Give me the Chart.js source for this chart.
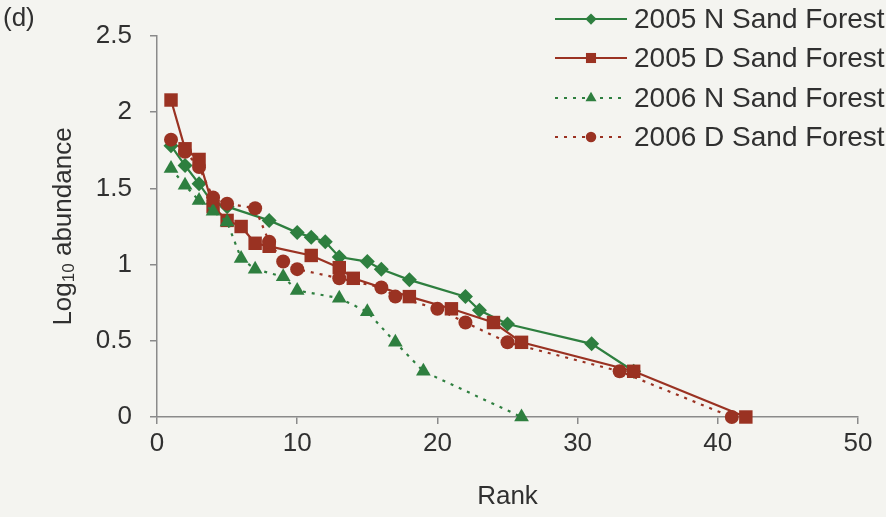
<!DOCTYPE html>
<html>
<head>
<meta charset="utf-8">
<script src="https://cdn.jsdelivr.net/npm/chart.js@4/dist/chart.umd.min.js"></script>
<style>
  html, body { margin: 0; padding: 0; background: #f4f4f0; }
  #wrap { width: 886px; height: 517px; position: relative; }
</style>
</head>
<body>
<div id="wrap"><canvas id="c" width="886" height="517"></canvas></div>
<script>
// Rank / log10 abundance per sampling
const n05Rank = [1, 2, 3, 4, 5, 8, 10, 11, 12, 13, 15, 16, 18, 22, 23, 25, 31, 34];
const n05Log  = [1.78, 1.65, 1.53, 1.40, 1.38, 1.29, 1.21, 1.18, 1.15, 1.05, 1.02, 0.97, 0.90, 0.79, 0.70, 0.61, 0.48, 0.30];

const d05Rank = [1, 2, 3, 4, 5, 6, 7, 8, 11, 13, 14, 18, 21, 24, 26, 34, 42];
const d05Log  = [2.08, 1.76, 1.69, 1.38, 1.29, 1.25, 1.14, 1.12, 1.06, 0.98, 0.91, 0.79, 0.71, 0.62, 0.49, 0.30, 0];

const n06Rank = [1, 2, 3, 4, 5, 6, 7, 9, 10, 13, 15, 17, 19, 26];
const n06Log  = [1.63, 1.52, 1.42, 1.35, 1.28, 1.04, 0.97, 0.92, 0.83, 0.78, 0.69, 0.49, 0.30, 0];

const d06Rank = [1, 2, 3, 4, 5, 7, 8, 9, 10, 13, 16, 17, 20, 22, 25, 33, 41];
const d06Log  = [1.82, 1.74, 1.64, 1.44, 1.40, 1.37, 1.15, 1.02, 0.97, 0.91, 0.85, 0.79, 0.71, 0.62, 0.49, 0.30, 0];

const seriesNames = ['2005 N Sand Forest', '2005 D Sand Forest', '2006 N Sand Forest', '2006 D Sand Forest'];
const xTicks = [0, 10, 20, 30, 40, 50];
const yTicks = [0, 0.5, 1, 1.5, 2, 2.5];

const GREEN = '#2e7f3f';
const RED = '#9a3222';
const TEXT = '#303030';
const AXIS = '#8a8a8a';
const FONT = '"Liberation Sans", Arial, sans-serif';

const pts = (xs, ys) => xs.map((x, i) => ({ x, y: ys[i] }));

const styles = [
  { color: GREEN, pointStyle: 'rectRot',  radius: 7.5, dash: [] },
  { color: RED,   pointStyle: 'rect',     radius: 9.5, dash: [] },
  { color: GREEN, pointStyle: 'triangle', radius: 8.5, dash: [3, 6] },
  { color: RED,   pointStyle: 'circle',   radius: 7,   dash: [3, 6] }
];
const rawData = [pts(n05Rank, n05Log), pts(d05Rank, d05Log), pts(n06Rank, n06Log), pts(d06Rank, d06Log)];

const datasets = rawData.map((d, i) => ({
  label: seriesNames[i],
  data: d,
  showLine: true,
  borderColor: styles[i].color,
  backgroundColor: styles[i].color,
  pointBackgroundColor: styles[i].color,
  pointBorderColor: styles[i].color,
  pointBorderWidth: 0,
  pointStyle: styles[i].pointStyle,
  pointRadius: styles[i].radius,
  pointHoverRadius: styles[i].radius,
  borderWidth: 2.2,
  borderDash: styles[i].dash,
  tension: 0,
  clip: false,
  order: 4 - i
}));

// Legend, panel tag and axis titles drawn on top of the plot
const decorations = {
  id: 'decorations',
  afterDraw(chart) {
    const ctx = chart.ctx;
    const area = chart.chartArea;
    ctx.save();

    // panel tag
    ctx.fillStyle = TEXT;
    ctx.font = '26px ' + FONT;
    ctx.textAlign = 'left';
    ctx.textBaseline = 'middle';
    ctx.fillText('(d)', 3, 19);

    // x title
    ctx.textAlign = 'center';
    ctx.fillText('Rank', (area.left + area.right) / 2, 497);

    // y title with subscript
    ctx.save();
    ctx.translate(64, (area.top + area.bottom) / 2);
    ctx.rotate(-Math.PI / 2);
    ctx.textAlign = 'left';
    const big = '26px ' + FONT, small = '17px ' + FONT;
    ctx.font = big; const w1 = ctx.measureText('Log').width;
    ctx.font = small; const w2 = ctx.measureText('10').width;
    ctx.font = big; const w3 = ctx.measureText(' abundance').width;
    const x0 = -(w1 + w2 + w3) / 2;
    ctx.font = big; ctx.fillText('Log', x0, 0);
    ctx.font = small; ctx.fillText('10', x0 + w1, 5);
    ctx.font = big; ctx.fillText(' abundance', x0 + w1 + w2, 0);
    ctx.restore();

    // legend
    const rowY = [19, 58, 98, 137];
    styles.forEach((s, i) => {
      const y = rowY[i];
      ctx.strokeStyle = s.color;
      ctx.fillStyle = s.color;
      ctx.lineWidth = 2.2;
      ctx.setLineDash(s.dash);
      ctx.beginPath();
      ctx.moveTo(555, y);
      ctx.lineTo(627, y);
      ctx.stroke();
      ctx.setLineDash([]);
      Chart.helpers.drawPoint(ctx, {
        pointStyle: s.pointStyle,
        radius: s.radius * 0.75,
        rotation: 0,
        borderWidth: 0
      }, 591, y);
      ctx.fillStyle = TEXT;
      ctx.font = '28px ' + FONT;
      ctx.textAlign = 'left';
      ctx.textBaseline = 'middle';
      ctx.fillText(seriesNames[i], 634, y + 1);
    });
    ctx.restore();
  }
};

new Chart(document.getElementById('c'), {
  type: 'scatter',
  data: { datasets },
  options: {
    responsive: false,
    animation: false,
    events: [],
    layout: { padding: { top: 36, right: 28, left: 0, bottom: 0 } },
    plugins: { legend: { display: false }, tooltip: { enabled: false } },
    scales: {
      x: {
        type: 'linear',
        min: 0, max: 50,
        afterFit(scale) { scale.height = 100; },
        afterBuildTicks(scale) { scale.ticks = xTicks.map(v => ({ value: v })); },
        border: { display: true, color: AXIS, width: 1.5 },
        grid: { drawOnChartArea: false, drawTicks: true, tickLength: 7, color: AXIS, lineWidth: 1.5 },
        ticks: { color: TEXT, font: { family: FONT, size: 26 }, padding: 4, maxRotation: 0,
                 callback: v => String(v) }
      },
      y: {
        type: 'linear',
        min: 0, max: 2.5,
        afterFit(scale) { scale.width = 157; },
        afterBuildTicks(scale) { scale.ticks = yTicks.map(v => ({ value: v })); },
        border: { display: true, color: AXIS, width: 1.5 },
        grid: { drawOnChartArea: false, drawTicks: true, tickLength: 7, color: AXIS, lineWidth: 1.5 },
        ticks: { color: TEXT, font: { family: FONT, size: 26 }, padding: 18,
                 callback: v => String(v) }
      }
    }
  },
  plugins: [decorations]
});
</script>
</body>
</html>
